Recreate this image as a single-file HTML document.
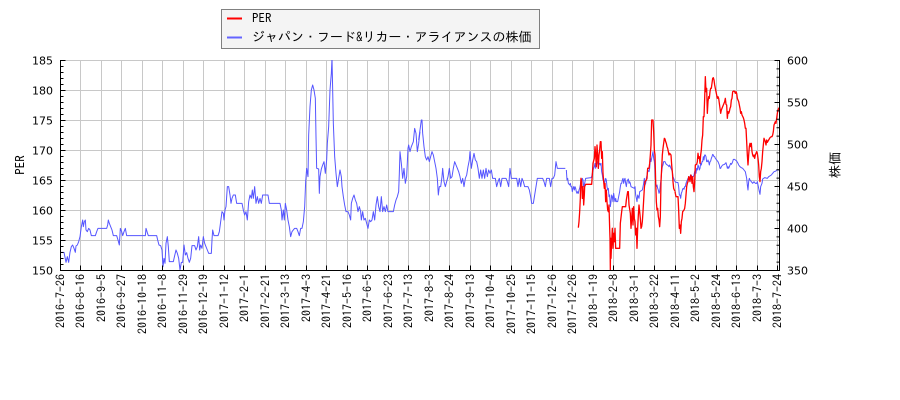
<!DOCTYPE html>
<html><head><meta charset="utf-8"><style>
html,body{margin:0;padding:0;background:#fff;}
svg{display:block;}
.tl{font-family:"DejaVu Sans","Liberation Sans",sans-serif;font-size:11px;fill:#000;}
.xl{font-family:"IPAGothic","Liberation Sans",sans-serif;font-size:12px;fill:#000;}
.lg{font-family:"IPAGothic","Liberation Sans","Noto Sans CJK JP",sans-serif;font-size:13px;fill:#000;}
</style></head><body>
<svg width="900" height="400" viewBox="0 0 900 400" xmlns="http://www.w3.org/2000/svg">
<defs><clipPath id="pc"><rect x="61" y="60" width="718" height="211"/></clipPath></defs>
<rect width="900" height="400" fill="#fff"/>
<!-- grid -->
<g stroke="#c8c8c8" stroke-width="1" fill="none">
<path d="M60.5 60.5H779.5M60.5 90.5H779.5M60.5 120.5H779.5M60.5 150.5H779.5M60.5 180.5H779.5M60.5 210.5H779.5M60.5 240.5H779.5"/>
<path d="M80.5 60.5V270.5M101.5 60.5V270.5M121.5 60.5V270.5M142.5 60.5V270.5M162.5 60.5V270.5M183.5 60.5V270.5M203.5 60.5V270.5M224.5 60.5V270.5M244.5 60.5V270.5M265.5 60.5V270.5M285.5 60.5V270.5M306.5 60.5V270.5M326.5 60.5V270.5M347.5 60.5V270.5M367.5 60.5V270.5M388.5 60.5V270.5M408.5 60.5V270.5M429.5 60.5V270.5M449.5 60.5V270.5M470.5 60.5V270.5M490.5 60.5V270.5M511.5 60.5V270.5M531.5 60.5V270.5M552.5 60.5V270.5M572.5 60.5V270.5M593.5 60.5V270.5M613.5 60.5V270.5M634.5 60.5V270.5M654.5 60.5V270.5M675.5 60.5V270.5M695.5 60.5V270.5M716.5 60.5V270.5M736.5 60.5V270.5M757.5 60.5V270.5M777.5 60.5V270.5"/>
</g>
<!-- series -->
<g clip-path="url(#pc)" fill="none" stroke-linejoin="round">
<g stroke="#5555ff">
<polyline vector-effect="non-scaling-stroke" stroke-width="1" transform="translate(40,50) scale(0.333333)" points="62,607 72,607 78,637 82,620 86,637 90,607 94,590 98,585 102,595 106,607 108,588 112,585 116,575 120,560 124,530 128,510 130,530 133,515 136,510 138,540 142,545 146,535 150,540 154,557 166,557 170,545 174,535 200,535 203,525 205,510 208,520 212,530 216,540 220,557 230,557 234,570 238,585 241,535 245,545 248,557 252,545 256,535 260,557 316,557 318,535 322,548 325,557 350,557 353,570 357,585 362,587 366,600 369,650 372,625 375,640 378,580 382,560 385,590 388,635 400,635 404,617 408,600 412,610 416,625 420,660 424,637 428,637 432,585 436,615 440,608 444,625 448,637 452,625 456,587 464,587 468,600 472,590 476,560 479,600 482,585 486,595 490,560 494,580 498,590 502,600 506,610 514,610 516,570 518,540 522,557 534,557 538,545 542,515 546,485 550,490 552,510 555,480 558,470 562,410 566,410 570,435 573,460 576,445 580,435 586,435 590,460 606,460 610,480 614,495 618,485 622,510 626,455 630,435 634,445 637,420 640,445 644,410 648,460 652,440 656,460 660,445 664,460 668,435 684,435 688,460 720,460 724,480 726,510 730,480 733,510 736,460 740,480 744,510 748,530 752,560 756,545 760,540 764,535 770,535 774,545 778,557 782,535 786,535 790,515 794,470 797,395 800,355 804,380 806,255 810,170 814,120 818,105 822,120 826,145 828,260 830,355 836,357 838,430 840,380 844,357 848,345 852,335 856,370 860,330 862,280 866,230 870,120 874,70 876,25 878,120 880,220 884,320 888,370 892,410 896,385 900,360 904,380 906,410 910,440 914,465 918,485 924,485 928,495 932,510 934,460 938,445 942,435 946,450 950,460 954,485 958,470 962,485 964,510 968,485 972,510 976,505 980,520 984,535 988,510 992,515 996,510 1000,485 1004,510 1008,465 1012,440 1016,470 1020,485 1024,440 1028,485 1032,470 1036,485 1040,465 1044,485 1060,485 1064,465 1068,450 1072,440 1076,425 1078,370 1080,305 1084,340 1088,385 1092,355 1096,400 1100,380 1104,295 1106,285 1110,305 1114,290 1120,275 1124,235 1128,250 1132,305 1136,280 1140,245"/>
<polyline vector-effect="non-scaling-stroke" stroke-width="1" transform="translate(400,50) scale(0.333333)" points="56,270 60,240 64,210 66,210 68,250 72,290 76,320 80,330 84,320 88,335 92,320 96,305 100,315 104,335 108,355 112,385 115,435 118,410 122,410 126,380 128,355 132,395 136,410 140,395 144,380 148,355 152,385 156,380 160,355 164,335 168,345 172,355 176,365 180,380 184,400 188,385 192,410 196,385 200,375 204,350 208,330 210,305 214,355 218,330 222,310 226,330 230,335 234,355 238,385 242,360 246,385 250,360 254,385 258,355 262,380 266,360 270,370 274,360 278,385 286,385 290,410 294,395 298,385 302,410 306,385 318,385 322,395 326,410 330,355 334,385 350,385 354,410 358,385 362,410 366,385 370,395 374,410 384,410 388,420 392,440 395,460 400,460 404,435 408,410 412,385 428,385 432,395 436,410 440,385 448,385 452,410 456,385 460,385 464,375 468,335 472,355 496,355"/>
<polyline vector-effect="non-scaling-stroke" stroke-width="1" transform="translate(565,55) scale(0.333333)" points="4,345 6,375 8,370 10,385 14,390 16,385 18,395 20,395 22,410 24,400 26,395 28,405 30,395 32,400 34,410 36,415 38,410 40,415 42,405 44,400 46,390 48,375 50,380 52,370 54,375 56,395 58,390 60,380 62,370 78,368 80,365 82,355 84,345 86,340 88,335 90,325 92,340 94,330 96,320 98,325 100,340 102,325 104,325 106,330 108,325 110,350 112,360 114,375 116,370 118,385 120,380 122,370 124,375 126,395 128,405 130,400 132,425 134,420 136,455 138,440 140,420 142,425 144,440 146,415 148,430 150,440 152,430 154,440 158,440 160,430 162,420 164,410 166,395 168,385 170,385 172,375 174,370 176,385 178,375 180,370 182,385 184,395 186,380 188,375 190,372 192,385 194,380 196,385 198,395 208,400 210,395 212,420 214,430 216,440 218,420 220,425 222,430 224,410 232,405 234,395 236,385 238,370 240,390 242,385 244,370 246,360 248,345 252,350 254,340 256,310 258,320 260,310 262,300 264,290 266,310 268,320 270,345 272,390 274,395 276,390 278,400 280,405 282,415 284,410 286,390 288,375 290,350 292,335 294,330 296,320 300,320 302,325 304,328 310,332 312,335 314,330 316,335 318,340 320,345 322,350 324,365 326,370 328,375 330,380"/>
<polyline vector-effect="non-scaling-stroke" stroke-width="1" transform="translate(670,55) scale(0.333333)" points="15,381 24,383 26,395 28,420 30,420 32,430 34,415 36,410 38,402 40,400 42,403 44,395 46,395 48,385 50,380 52,375 54,370 58,368 60,365 62,370 64,360 66,370 68,365 70,365 72,360 74,350 76,345 78,355 80,340 82,345 84,330 86,335 88,345 90,340 92,325 94,330 96,320 98,320 100,305 102,315 104,300 106,300 108,305 110,320 112,320 114,315 116,320 118,330 120,320 122,318 124,310 126,305 128,298 130,300 132,305 134,305 136,310 140,315 144,320 146,325 148,330 150,340 152,340 154,335 158,330 164,328 166,325 168,323 170,330 172,340 174,335 176,340 178,335 180,330 182,325 184,328 186,325 188,320 190,313 194,313 196,315 200,318 202,322 204,325 206,330 210,335 214,338 218,340 222,345 226,350 228,360 230,370 232,390 234,405 236,380 238,370 240,375 244,380 248,385 252,380 256,385 260,385 262,380 264,390 266,400 268,410 270,418 272,395 274,390 276,385 278,372 284,368 292,370 296,365 304,360 308,355 312,350 318,348 320,345 329,345"/>
</g>
<g stroke="#ff0000">
<polyline vector-effect="non-scaling-stroke" stroke-width="1.3" transform="translate(565,55) scale(0.333333)" points="40,518 42,500 44,470 46,430 47,385 48,370 50,380 52,430 54,395 56,450 58,420 59,395 62,388 80,388 82,360 84,325 88,310 90,275 92,300 94,335 96,270 98,300 100,340 102,300 104,285 106,260 108,260 110,310 112,290 114,355 116,380 118,400 120,385 122,440 124,405 126,440 128,465 130,470 132,450 134,520 135,550 136,645 137,550 138,610 140,560 142,520 144,580 146,535 148,560 150,520 152,580 164,580 166,505 170,470 172,455 182,455 184,435 188,410 190,410 192,450 196,475 198,520 200,490 202,460 204,510 206,455 208,490 210,500 212,540 214,520 216,580 218,520 220,480 222,450 224,470 226,490 228,520 230,515 232,500 234,470 236,435 238,400 240,380 244,375 246,370 248,340 252,340 254,325 256,300 258,270 260,195 264,195 266,230 268,285 270,300 272,380 274,440 276,465 278,460 280,485 282,495 284,515 286,485 288,380 290,340 292,300 294,280 296,265 298,250 300,252 302,260 304,265 306,275 308,280 310,290 312,300 314,295 318,300 320,330 322,350 324,380 326,400 328,405 330,408"/>
<polyline vector-effect="non-scaling-stroke" stroke-width="1.3" transform="translate(670,55) scale(0.333333)" points="15,409 16,415 18,425 24,425 26,465 28,520 30,510 32,535 34,500 36,490 38,470 42,465 44,460 46,445 48,420 50,395 52,385 54,380 56,365 58,370 60,380 62,360 64,365 66,385 68,365 70,395 72,410 74,380 76,330 80,328 82,320 84,295 86,310 88,305 90,325 92,300 94,285 96,255 98,240 100,185 102,185 104,130 106,65 108,110 110,100 112,175 114,140 116,125 118,130 120,110 122,100 124,100 126,85 128,70 130,68 132,75 134,90 136,100 138,110 140,120 142,130 144,125 146,130 148,145 150,160 152,175 154,165 158,155 162,145 164,140 166,130 168,148 170,150 172,190 174,170 176,175 178,170 180,160 182,155 184,135 186,130 188,110 192,108 194,110 196,115 198,110 200,115 202,130 206,140 208,150 210,160 212,175 214,170 216,180 220,188 222,195 224,205 226,220 228,220 230,260 232,300 234,330 236,300 238,275 240,265 242,275 244,265 246,290 248,300 250,305 252,300 254,310 256,300 260,290 262,295 264,310 266,330 268,365 270,380 272,350 274,340 276,320 278,290 280,270 282,250 284,255 286,260 288,270 290,255 292,262 296,255 300,248 304,245 306,245 308,240 310,230 312,210 314,205 316,200 318,205 320,190 322,175 324,165 326,160 328,158 329,172"/>
</g>
</g>
<!-- axes -->
<g stroke="#000" stroke-width="1" fill="none">
<path d="M60.5 60V271M60 270.5H780M779.5 60V271"/>
<path d="M60.5 60.5h5M60.5 90.5h5M60.5 120.5h5M60.5 150.5h5M60.5 180.5h5M60.5 210.5h5M60.5 240.5h5M60.5 270.5h5"/>
<path d="M60.5 66.5h3M60.5 72.5h3M60.5 78.5h3M60.5 84.5h3M60.5 96.5h3M60.5 102.5h3M60.5 108.5h3M60.5 114.5h3M60.5 126.5h3M60.5 132.5h3M60.5 138.5h3M60.5 144.5h3M60.5 156.5h3M60.5 162.5h3M60.5 168.5h3M60.5 174.5h3M60.5 186.5h3M60.5 192.5h3M60.5 198.5h3M60.5 204.5h3M60.5 216.5h3M60.5 222.5h3M60.5 228.5h3M60.5 234.5h3M60.5 246.5h3M60.5 252.5h3M60.5 258.5h3M60.5 264.5h3"/>
<path d="M779.5 60.5h-5M779.5 102.5h-5M779.5 144.5h-5M779.5 186.5h-5M779.5 228.5h-5M779.5 270.5h-5"/>
<path d="M779.5 68.9h-3M779.5 77.3h-3M779.5 85.7h-3M779.5 94.1h-3M779.5 110.9h-3M779.5 119.3h-3M779.5 127.7h-3M779.5 136.1h-3M779.5 152.9h-3M779.5 161.3h-3M779.5 169.7h-3M779.5 178.1h-3M779.5 194.9h-3M779.5 203.3h-3M779.5 211.7h-3M779.5 220.1h-3M779.5 236.9h-3M779.5 245.3h-3M779.5 253.7h-3M779.5 262.1h-3"/>
<path d="M80.5 270.5v-5M101.5 270.5v-5M121.5 270.5v-5M142.5 270.5v-5M162.5 270.5v-5M183.5 270.5v-5M203.5 270.5v-5M224.5 270.5v-5M244.5 270.5v-5M265.5 270.5v-5M285.5 270.5v-5M306.5 270.5v-5M326.5 270.5v-5M347.5 270.5v-5M367.5 270.5v-5M388.5 270.5v-5M408.5 270.5v-5M429.5 270.5v-5M449.5 270.5v-5M470.5 270.5v-5M490.5 270.5v-5M511.5 270.5v-5M531.5 270.5v-5M552.5 270.5v-5M572.5 270.5v-5M593.5 270.5v-5M613.5 270.5v-5M634.5 270.5v-5M654.5 270.5v-5M675.5 270.5v-5M695.5 270.5v-5M716.5 270.5v-5M736.5 270.5v-5M757.5 270.5v-5M777.5 270.5v-5"/>
</g>
<!-- left tick labels -->
<g class="tl" text-anchor="end">
<text x="53" y="64.5">185</text>
<text x="53" y="94.5">180</text>
<text x="53" y="124.5">175</text>
<text x="53" y="154.5">170</text>
<text x="53" y="184.5">165</text>
<text x="53" y="214.5">160</text>
<text x="53" y="244.5">155</text>
<text x="53" y="274.5">150</text>
</g>
<g class="tl">
<text x="787" y="64.5">600</text>
<text x="787" y="106.5">550</text>
<text x="787" y="148.5">500</text>
<text x="787" y="190.5">450</text>
<text x="787" y="232.5">400</text>
<text x="787" y="274.5">350</text>
</g>
<!-- x labels -->
<g class="xl" text-anchor="end">
<text transform="translate(60.5,274) rotate(-90)" dy="0.35em">2016-7-26</text>
<text transform="translate(80.5,274) rotate(-90)" dy="0.35em">2016-8-16</text>
<text transform="translate(101.5,274) rotate(-90)" dy="0.35em">2016-9-5</text>
<text transform="translate(121.5,274) rotate(-90)" dy="0.35em">2016-9-27</text>
<text transform="translate(142.5,274) rotate(-90)" dy="0.35em">2016-10-18</text>
<text transform="translate(162.5,274) rotate(-90)" dy="0.35em">2016-11-8</text>
<text transform="translate(183.5,274) rotate(-90)" dy="0.35em">2016-11-29</text>
<text transform="translate(203.5,274) rotate(-90)" dy="0.35em">2016-12-19</text>
<text transform="translate(224.5,274) rotate(-90)" dy="0.35em">2017-1-12</text>
<text transform="translate(244.5,274) rotate(-90)" dy="0.35em">2017-2-1</text>
<text transform="translate(265.5,274) rotate(-90)" dy="0.35em">2017-2-21</text>
<text transform="translate(285.5,274) rotate(-90)" dy="0.35em">2017-3-13</text>
<text transform="translate(306.5,274) rotate(-90)" dy="0.35em">2017-4-3</text>
<text transform="translate(326.5,274) rotate(-90)" dy="0.35em">2017-4-21</text>
<text transform="translate(347.5,274) rotate(-90)" dy="0.35em">2017-5-16</text>
<text transform="translate(367.5,274) rotate(-90)" dy="0.35em">2017-6-5</text>
<text transform="translate(388.5,274) rotate(-90)" dy="0.35em">2017-6-23</text>
<text transform="translate(408.5,274) rotate(-90)" dy="0.35em">2017-7-13</text>
<text transform="translate(429.5,274) rotate(-90)" dy="0.35em">2017-8-3</text>
<text transform="translate(449.5,274) rotate(-90)" dy="0.35em">2017-8-24</text>
<text transform="translate(470.5,274) rotate(-90)" dy="0.35em">2017-9-13</text>
<text transform="translate(490.5,274) rotate(-90)" dy="0.35em">2017-10-4</text>
<text transform="translate(511.5,274) rotate(-90)" dy="0.35em">2017-10-25</text>
<text transform="translate(531.5,274) rotate(-90)" dy="0.35em">2017-11-15</text>
<text transform="translate(552.5,274) rotate(-90)" dy="0.35em">2017-12-6</text>
<text transform="translate(572.5,274) rotate(-90)" dy="0.35em">2017-12-26</text>
<text transform="translate(593.5,274) rotate(-90)" dy="0.35em">2018-1-19</text>
<text transform="translate(613.5,274) rotate(-90)" dy="0.35em">2018-2-8</text>
<text transform="translate(634.5,274) rotate(-90)" dy="0.35em">2018-3-1</text>
<text transform="translate(654.5,274) rotate(-90)" dy="0.35em">2018-3-22</text>
<text transform="translate(675.5,274) rotate(-90)" dy="0.35em">2018-4-11</text>
<text transform="translate(695.5,274) rotate(-90)" dy="0.35em">2018-5-2</text>
<text transform="translate(716.5,274) rotate(-90)" dy="0.35em">2018-5-24</text>
<text transform="translate(736.5,274) rotate(-90)" dy="0.35em">2018-6-13</text>
<text transform="translate(757.5,274) rotate(-90)" dy="0.35em">2018-7-3</text>
<text transform="translate(777.5,274) rotate(-90)" dy="0.35em">2018-7-24</text>
</g>
<!-- axis titles -->
<text class="lg" text-anchor="middle" transform="translate(20,165) rotate(-90)" dy="0.35em">PER</text>
<text class="lg" text-anchor="middle" transform="translate(835,165) rotate(-90)" dy="0.35em">株価</text>
<!-- legend -->
<rect x="221.5" y="9.5" width="318" height="39" fill="#f4f4f4" stroke="#808080" stroke-width="1"/>
<path d="M227 18.5H242" stroke="#ff0000" stroke-width="2"/>
<path d="M227 37.5H242" stroke="#6464ff" stroke-width="2"/>
<text class="lg" x="252" y="18" dy="0.35em">PER</text>
<text class="lg" x="252" y="37" dy="0.35em">ジャパン・フード&amp;リカー・アライアンスの株価</text>
</svg>
</body></html>
